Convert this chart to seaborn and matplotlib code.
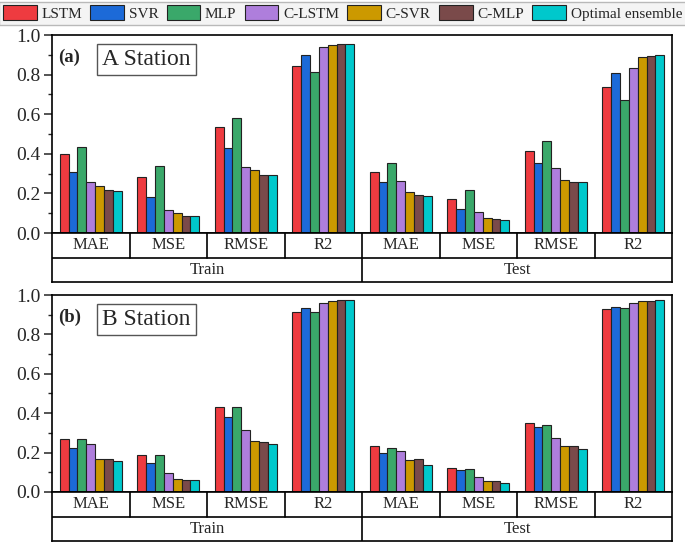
import numpy as np
import pandas as pd
import matplotlib
matplotlib.use("Agg")
import matplotlib.pyplot as plt
import seaborn as sns
from matplotlib.patches import Patch
from matplotlib.ticker import MultipleLocator

# --- datos ---
models = ['LSTM', 'SVR', 'MLP', 'C-LSTM', 'C-SVR', 'C-MLP', 'Optimal ensemble']
metrics = ['MAE', 'MSE', 'RMSE', 'R2']
splits = ['Train', 'Test']
colors = ['#EE3B40', '#1C6AD8', '#3AA86A', '#AE7EDC', '#CC9900', '#7A4A4A', '#00C8CC']

# filas = modelos, columnas = Train MAE, MSE, RMSE, R2, Test MAE, MSE, RMSE, R2
station_a = np.array([
    [0.400, 0.285, 0.535, 0.843, 0.307, 0.172, 0.414, 0.735],
    [0.307, 0.184, 0.431, 0.899, 0.260, 0.123, 0.353, 0.806],
    [0.437, 0.340, 0.583, 0.811, 0.355, 0.215, 0.465, 0.671],
    [0.257, 0.117, 0.336, 0.937, 0.264, 0.108, 0.328, 0.833],
    [0.236, 0.101, 0.318, 0.948, 0.206, 0.076, 0.269, 0.887],
    [0.215, 0.086, 0.294, 0.953, 0.194, 0.069, 0.260, 0.894],
    [0.211, 0.084, 0.291, 0.954, 0.189, 0.066, 0.257, 0.897],
])
station_b = np.array([
    [0.267, 0.186, 0.431, 0.914, 0.235, 0.122, 0.350, 0.931],
    [0.222, 0.147, 0.382, 0.934, 0.200, 0.110, 0.332, 0.937],
    [0.269, 0.186, 0.431, 0.914, 0.222, 0.117, 0.338, 0.934],
    [0.245, 0.098, 0.313, 0.958, 0.210, 0.076, 0.272, 0.959],
    [0.169, 0.064, 0.257, 0.970, 0.162, 0.054, 0.235, 0.971],
    [0.169, 0.063, 0.252, 0.973, 0.168, 0.054, 0.235, 0.971],
    [0.157, 0.059, 0.244, 0.973, 0.139, 0.046, 0.217, 0.975],
])

groups = [f'{s}-{m}' for s in splits for m in metrics]


def to_long(values):
    rows = []
    for i, model in enumerate(models):
        for j, g in enumerate(groups):
            rows.append({'group': g, 'model': model, 'value': values[i, j]})
    return pd.DataFrame(rows)


# --- estilo ---
sns.set_theme(style="white")
plt.rcParams['font.family'] = ['Liberation Serif', 'DejaVu Serif']
plt.rcParams['axes.linewidth'] = 1.2

fig = plt.figure(figsize=(6.85, 5.42), dpi=100)

W = 620 / 685
L = 52 / 685
panels = [
    (station_a, 'A Station', '(a)', 0.570, 0.3654, 0.4797),
    (station_b, 'B Station', '(b)', 0.0923, 0.3634, 0.0018),
]

for values, station, tag, bottom, height, tbottom in panels:
    ax = fig.add_axes([L, bottom, W, height])
    df = to_long(values)
    sns.barplot(data=df, x='group', y='value', hue='model', order=groups,
                hue_order=models, palette=colors, width=0.8,
                edgecolor='#222222', linewidth=0.8, saturation=1,
                legend=False, ax=ax)
    ax.set_xlim(-0.5, len(groups) - 0.5)
    ax.set_ylim(0, 1.0)
    ax.set_xticks([])
    ax.set_xlabel('')
    ax.set_ylabel('')
    ax.yaxis.set_major_locator(MultipleLocator(0.2))
    ax.yaxis.set_minor_locator(MultipleLocator(0.1))
    ax.yaxis.set_major_formatter(matplotlib.ticker.FormatStrFormatter('%.1f'))
    ax.tick_params(axis='y', which='major', direction='out', length=6, width=1.1,
                   labelsize=14, left=True, pad=2)
    ax.tick_params(axis='y', which='minor', direction='out', length=3, width=1.0, left=True)
    for sp in ax.spines.values():
        sp.set_color('black')

    ax.text(0.01, 0.888, tag, transform=ax.transAxes, fontsize=13.5, weight='bold',
            ha='left', va='center')
    ax.text(0.152, 0.875, station, transform=ax.transAxes, fontsize=17,
            ha='center', va='center',
            bbox=dict(boxstyle='square,pad=0.22', facecolor='white', edgecolor='#555555', linewidth=1))

    # --- tabla de categorías debajo del eje ---
    tab = fig.add_axes([L, tbottom, W, 0.0904])
    tab.set_xlim(-0.5, len(groups) - 0.5)
    tab.set_ylim(0, 2)
    tab.set_xticks([])
    tab.set_yticks([])
    for sp in tab.spines.values():
        sp.set_color('black')
        sp.set_linewidth(1.2)
    tab.axhline(1, color='black', lw=1.2)
    for k in range(1, len(groups)):
        if k == len(metrics):
            tab.axvline(k - 0.5, color='black', lw=1.2)
        else:
            tab.axvline(k - 0.5, ymin=0.5, ymax=1, color='black', lw=1.2)
    for k, g in enumerate(groups):
        tab.text(k, 1.5, g.split('-')[1], ha='center', va='center', fontsize=12)
    for s, name in enumerate(splits):
        tab.text(s * len(metrics) + (len(metrics) - 1) / 2, 0.5, name,
                 ha='center', va='center', fontsize=12)

# --- leyenda ---
handles = [Patch(facecolor=c, edgecolor='#222222', linewidth=0.8, label=m)
           for m, c in zip(models, colors)]
fig.legend(handles=handles, loc='upper center', ncol=7,
           bbox_to_anchor=(0.5, 0.997), fontsize=11,
           handlelength=2.2, handleheight=1.05, handletextpad=0.3,
           columnspacing=0.55, borderpad=0.25, borderaxespad=0,
           frameon=True, fancybox=False, edgecolor='#aaaaaa', facecolor='#f2f2f2')

plt.savefig('out.png', dpi=100)
